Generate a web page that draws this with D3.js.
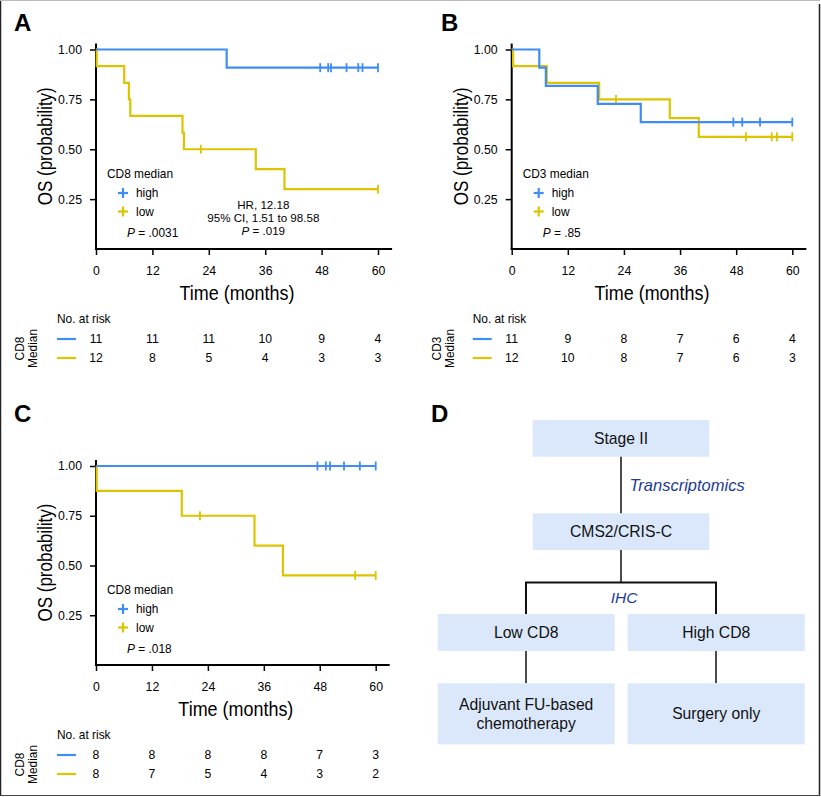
<!DOCTYPE html>
<html><head><meta charset="utf-8">
<script src="https://cdn.jsdelivr.net/npm/d3@7"></script>
<style>
html,body{margin:0;padding:0;background:#fff;}
svg{display:block;font-family:"Liberation Sans",Arial,sans-serif;}
</style></head>
<body><svg id="c" width="821" height="797"></svg>
<script>
// ---------- DATA ----------
const timeTicks = [0, 12, 24, 36, 48, 60];
const yTicks = [0.25, 0.50, 0.75, 1.00];
const yTickLabels = ["0.25", "0.50", "0.75", "1.00"];

// Panel A: CD8 median
const aHighT = [0, 27.8];
const aHighS = [1.0, 0.909];
const aHighCensor = [47.7, 49.4, 50.0, 53.3, 55.8, 56.7, 60];
const aLowT = [0, 0.15, 6.0, 7.0, 7.3, 18.4, 18.7, 34.0, 40.1];
const aLowS = [1.0, 0.917, 0.833, 0.75, 0.667, 0.583, 0.5, 0.4, 0.3];
const aLowCensor = [22.3, 60];
const aRiskHigh = [11, 11, 11, 10, 9, 4];
const aRiskLow = [12, 8, 5, 4, 3, 3];

// Panel B: CD3 median
const bHighT = [0, 5.9, 7.3, 18.4, 27.6];
const bHighS = [1.0, 0.909, 0.818, 0.727, 0.636];
const bHighCensor = [47.4, 49.3, 53.1, 60];
const bLowT = [0, 0.3, 7.5, 18.7, 33.8, 40.0];
const bLowS = [1.0, 0.917, 0.833, 0.75, 0.656, 0.5625];
const bLowCensor = [22.3, 50.1, 55.6, 56.7, 60];
const bRiskHigh = [11, 9, 8, 7, 6, 4];
const bRiskLow = [12, 10, 8, 7, 6, 3];

// Panel C: CD8 median (subset)
const cHighT = [0];
const cHighS = [1.0];
const cHighCensor = [47.5, 49.3, 50.2, 53.2, 56.6, 60];
const cLowT = [0, 0.15, 18.4, 34.0, 40.1];
const cLowS = [1.0, 0.875, 0.75, 0.6, 0.45];
const cLowCensor = [22.3, 55.6, 60];
const cRiskHigh = [8, 8, 8, 8, 7, 3];
const cRiskLow = [8, 7, 5, 4, 3, 2];

// Panel D: flow chart labels
const flowTop = ["Stage II", "CMS2/CRIS-C"];
const flowMid = ["Low CD8", "High CD8"];
const flowBottom = [["Adjuvant FU-based", "chemotherapy"], ["Surgery only"]];
const flowEdges = ["Transcriptomics", "IHC"];

// ---------- STYLE ----------
const BLUE = "#3f8cf6";
const YELLOW = "#dcc400";
const NAVY = "#1d3b95";
const BOXFILL = "#dbe8fb";
const svg = d3.select("#c");

// frame
svg.append("line").attr("x1",0.5).attr("x2",0.5).attr("y1",0).attr("y2",796).attr("stroke","#222").attr("stroke-width",1.5);
svg.append("line").attr("x1",0).attr("x2",820).attr("y1",0.5).attr("y2",0.5).attr("stroke","#bbb").attr("stroke-width",1);
svg.append("line").attr("x1",819.5).attr("x2",819.5).attr("y1",4).attr("y2",796).attr("stroke","#222").attr("stroke-width",1.5);
svg.append("line").attr("x1",0).attr("x2",820).attr("y1",795.5).attr("y2",795.5).attr("stroke","#444").attr("stroke-width",1.2);

function panelLabel(t, x, y){
  svg.append("text").attr("x",x).attr("y",y).text(t)
    .attr("font-size",24).attr("font-weight","bold").attr("fill","#000");
}

function km(cfg){
  const x = d3.scaleLinear().domain([0,60]).range([cfg.x0, cfg.x60]);
  const y = d3.scaleLinear().domain([0,1]).range([cfg.y0, cfg.y1]);
  const g = svg.append("g");

  // axes
  const yAxis = d3.axisLeft(y).tickValues(yTicks).tickFormat((d,i)=>yTickLabels[i]).tickSize(6).tickSizeOuter(0).tickPadding(8);
  const ya = g.append("g").attr("transform",`translate(${cfg.x0},0)`).call(yAxis);
  ya.select(".domain").remove();
  ya.selectAll("line").attr("stroke","#000").attr("stroke-width",1.5);
  ya.selectAll("text").attr("font-size",12.3).attr("fill","#000").attr("font-family","Liberation Sans, Arial");
  g.append("line").attr("x1",cfg.x0).attr("x2",cfg.x0).attr("y1",y(1.03)).attr("y2",cfg.y0+0.5)
    .attr("stroke","#000").attr("stroke-width",2);

  const xAxis = d3.axisBottom(x).tickValues(timeTicks).tickSize(6).tickSizeOuter(0).tickPadding(11);
  const xa = g.append("g").attr("transform",`translate(0,${cfg.y0})`).call(xAxis);
  xa.select(".domain").remove();
  xa.selectAll("line").attr("stroke","#000").attr("stroke-width",1.5);
  xa.selectAll("text").attr("font-size",12.3).attr("fill","#000").attr("font-family","Liberation Sans, Arial");
  g.append("line").attr("x1",cfg.x0-1).attr("x2",x(63)).attr("y1",cfg.y0).attr("y2",cfg.y0)
    .attr("stroke","#000").attr("stroke-width",2);

  // titles (condensed look)
  g.append("text").attr("x",(cfg.x0+cfg.x60)/2).attr("y",cfg.y0+51).attr("text-anchor","middle")
    .attr("font-family","Liberation Sans Narrow, Arial Narrow, sans-serif").attr("font-size",21)
    .attr("textLength",115).attr("lengthAdjust","spacingAndGlyphs").text("Time (months)");
  g.append("text").attr("transform",`translate(${cfg.x0-44},${(y(1.03)+cfg.y0)/2}) rotate(-90)`)
    .attr("text-anchor","middle").attr("font-family","Liberation Sans Narrow, Arial Narrow, sans-serif")
    .attr("font-size",21).attr("textLength",118).attr("lengthAdjust","spacingAndGlyphs").text("OS (probability)");

  // curves
  const line = d3.line().x(d=>x(d[0])).y(d=>y(d[1])).curve(d3.curveStepAfter);
  const series = [
    {T:cfg.lowT, S:cfg.lowS, C:cfg.lowC, col:YELLOW},
    {T:cfg.highT, S:cfg.highS, C:cfg.highC, col:BLUE}
  ];
  series.forEach(s=>{
    const pts = s.T.map((t,i)=>[t, s.S[i]]);
    pts.push([60, s.S[s.S.length-1]]);
    g.append("path").attr("d",line(pts)).attr("fill","none").attr("stroke",s.col).attr("stroke-width",2.2);
    const survAt = t => { let v = s.S[0]; s.T.forEach((tt,i)=>{ if (tt<=t) v = s.S[i]; }); return v; };
    g.selectAll(null).data(s.C).enter().append("line")
      .attr("x1",d=>x(d)).attr("x2",d=>x(d))
      .attr("y1",d=>y(survAt(d))-4.5).attr("y2",d=>y(survAt(d))+4.5)
      .attr("stroke",s.col).attr("stroke-width",1.8);
  });

  // legend
  const lx = cfg.x0 + 11, ly = cfg.legendY;
  g.append("text").attr("x",lx).attr("y",ly).attr("font-size",11.9).text(cfg.legendTitle);
  [["high",BLUE],["low",YELLOW]].forEach((d,i)=>{
    const cy = ly + 15 + i*18.5;
    const cx = lx + 16;
    g.append("line").attr("x1",cx-5).attr("x2",cx+5).attr("y1",cy).attr("y2",cy).attr("stroke",d[1]).attr("stroke-width",2.2);
    g.append("line").attr("x1",cx).attr("x2",cx).attr("y1",cy-5).attr("y2",cy+5).attr("stroke",d[1]).attr("stroke-width",2.2);
    g.append("text").attr("x",lx+29).attr("y",cy+4).attr("font-size",11.9).text(d[0]);
  });
  const pt = g.append("text").attr("x",lx+20).attr("y",ly+59).attr("font-size",11.9);
  pt.append("tspan").attr("font-style","italic").text("P");
  pt.append("tspan").text(" = " + cfg.p);

  // annotation
  if (cfg.hr){
    const hx = x(35.6);
    cfg.hr.forEach((t,i)=>{
      const tt = g.append("text").attr("x",hx).attr("y",ly+31+i*13).attr("text-anchor","middle").attr("font-size",11.6);
      if (t.startsWith("P")){ tt.append("tspan").attr("font-style","italic").text("P"); tt.append("tspan").text(t.slice(1)); }
      else tt.text(t);
    });
  }

  // risk table
  const rx = cfg.riskX;
  g.append("text").attr("x",rx).attr("y",cfg.riskY).attr("font-size",11.9).text("No. at risk");
  [[cfg.riskHigh,BLUE],[cfg.riskLow,YELLOW]].forEach((r,i)=>{
    const ry = cfg.riskY + 16 + i*19;
    g.append("line").attr("x1",rx).attr("x2",rx+19).attr("y1",ry).attr("y2",ry).attr("stroke",r[1]).attr("stroke-width",2.2);
    g.selectAll(null).data(r[0]).enter().append("text")
      .attr("x",(d,j)=>x(timeTicks[j])).attr("y",ry+4.3).attr("text-anchor","middle")
      .attr("font-size",12.2).text(d=>d);
  });
  const gl = g.append("text").attr("transform",`translate(${cfg.groupX},${cfg.riskY+25.5}) rotate(-90)`)
    .attr("text-anchor","middle").attr("font-size",11.9);
  gl.append("tspan").attr("x",0).attr("dy",0).text(cfg.groupName);
  gl.append("tspan").attr("x",0).attr("dy",13).text("Median");
}

panelLabel("A", 14, 31);
km({x0:96, x60:378, y0:249, y1:49.5, legendY:178, legendTitle:"CD8 median", p:".0031",
    highT:aHighT, highS:aHighS, highC:aHighCensor, lowT:aLowT, lowS:aLowS, lowC:aLowCensor,
    hr:["HR, 12.18","95% CI, 1.51 to 98.58","P = .019"],
    riskX:57, riskY:323, riskHigh:aRiskHigh, riskLow:aRiskLow, groupX:24, groupName:"CD8"});

panelLabel("B", 441, 31);
km({x0:511.7, x60:792.3, y0:249, y1:49.5, legendY:178, legendTitle:"CD3 median", p:".85",
    highT:bHighT, highS:bHighS, highC:bHighCensor, lowT:bLowT, lowS:bLowS, lowC:bLowCensor,
    riskX:472.7, riskY:323, riskHigh:bRiskHigh, riskLow:bRiskLow, groupX:440.5, groupName:"CD3"});

panelLabel("C", 14, 422);
km({x0:96, x60:375.7, y0:665, y1:466, legendY:594, legendTitle:"CD8 median", p:".018",
    highT:cHighT, highS:cHighS, highC:cHighCensor, lowT:cLowT, lowS:cLowS, lowC:cLowCensor,
    riskX:57, riskY:739, riskHigh:cRiskHigh, riskLow:cRiskLow, groupX:24, groupName:"CD8"});

// ---------- Panel D: flow chart ----------
panelLabel("D", 431, 422);
const gD = svg.append("g");
function box(x0,x1,y0,y1,lines){
  gD.append("rect").attr("x",x0).attr("y",y0).attr("width",x1-x0).attr("height",y1-y0).attr("fill",BOXFILL);
  const cy = (y0+y1)/2, n = lines.length, lh = 19.5;
  lines.forEach((t,i)=>{
    gD.append("text").attr("x",(x0+x1)/2).attr("y",cy + (i-(n-1)/2)*lh + 5.5)
      .attr("text-anchor","middle").attr("font-size",15.7).attr("fill","#111").text(t);
  });
}
function vline(x,y0,y1,w){
  gD.append("line").attr("x1",x).attr("x2",x).attr("y1",y0).attr("y2",y1).attr("stroke","#111").attr("stroke-width",w||1.5);
}
const cx = 621, lcx = 526, rcx = 716;
box(532.7, 709.3, 420, 456.7, [flowTop[0]]);
box(532.7, 709.3, 513.3, 550, [flowTop[1]]);
vline(cx, 456.7, 513.3);
gD.append("text").attr("x",629.5).attr("y",490.5).attr("font-size",16.5).attr("font-style","italic").attr("fill",NAVY).text(flowEdges[0]);
vline(cx, 550, 582.5);
gD.append("path").attr("d",`M${lcx},614 V582.5 H${rcx} V614`).attr("fill","none").attr("stroke","#111").attr("stroke-width",2);
gD.append("text").attr("x",624).attr("y",603).attr("text-anchor","middle").attr("font-size",15.5).attr("font-style","italic").attr("fill",NAVY).text(flowEdges[1]);
box(437.7, 614.7, 614, 651, [flowMid[0]]);
box(627.7, 804.7, 614, 651, [flowMid[1]]);
vline(lcx, 651, 683.3);
vline(rcx, 651, 683.3);
box(437.7, 614.7, 683.3, 744.3, flowBottom[0]);
box(627.7, 804.7, 683.3, 744.3, flowBottom[1]);
</script></body></html>
